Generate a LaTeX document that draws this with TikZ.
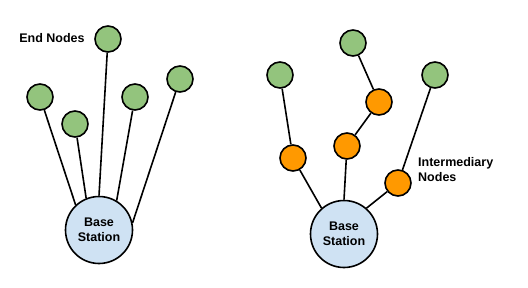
\documentclass[tikz,border=0pt]{standalone}
\usepackage{fontspec}
\setmainfont{Liberation Sans}

\definecolor{leafgreen}{HTML}{93C47D}
\definecolor{hoporange}{HTML}{FF9900}
\definecolor{basefill}{HTML}{CFE2F3}

\begin{document}
\begin{tikzpicture}[x=1pt, y=-1pt,
  endnode/.style={circle, draw, line width=1.6pt, fill=leafgreen, minimum size=26pt, inner sep=0pt},
  relay/.style={circle, draw, line width=1.6pt, fill=hoporange, minimum size=26pt, inner sep=0pt},
  station/.style={circle, draw, line width=1.6pt, fill=basefill, minimum size=67pt, inner sep=0pt,
    align=center, font=\fontsize{12.5}{15}\selectfont\bfseries},
  tag/.style={inner sep=0pt, font=\fontsize{12.5}{15}\selectfont\bfseries},
  link/.style={line width=1.6pt}]
  \useasboundingbox (0,0) rectangle (528,287);

  % single hop: every end node talks to the base station
  \node[station] (bsA) at (99,230) {Base\\Station};
  \node[endnode] (a1) at (40,97) {};
  \node[endnode] (a2) at (75,124) {};
  \node[endnode] (a3) at (108,39) {};
  \node[endnode] (a4) at (135,97) {};
  \node[endnode] (a5) at (180,79) {};
  \node[tag] (lblA) at (52,38) {End Nodes};

  \draw[link] (a1) -- (bsA.133);
  \draw[link] (a2) -- (bsA.112);
  \draw[link] (a3) -- (bsA.90);
  \draw[link] (a4) -- (bsA.59);
  \draw[link] (a5) -- (bsA.12);

  % multi hop: traffic goes through intermediary nodes
  \node[station] (bsB) at (344,234) {Base\\Station};
  \node[endnode] (b1) at (280,75) {};
  \node[endnode] (b2) at (353,43) {};
  \node[endnode] (b3) at (435,75) {};
  \node[relay] (r1) at (293,158) {};
  \node[relay] (r2) at (379,102) {};
  \node[relay] (r3) at (347,146) {};
  \node[relay] (r4) at (398,183) {};
  \node[tag, align=left, anchor=west] (lblB) at (418,170) {Intermediary\\Nodes};

  \draw[link] (b1) -- (r1) -- (bsB.131);
  \draw[link] (b2) -- (r2) -- (r3) -- (bsB.90);
  \draw[link] (b3) -- (r4) -- (bsB.49);
\end{tikzpicture}
\end{document}
